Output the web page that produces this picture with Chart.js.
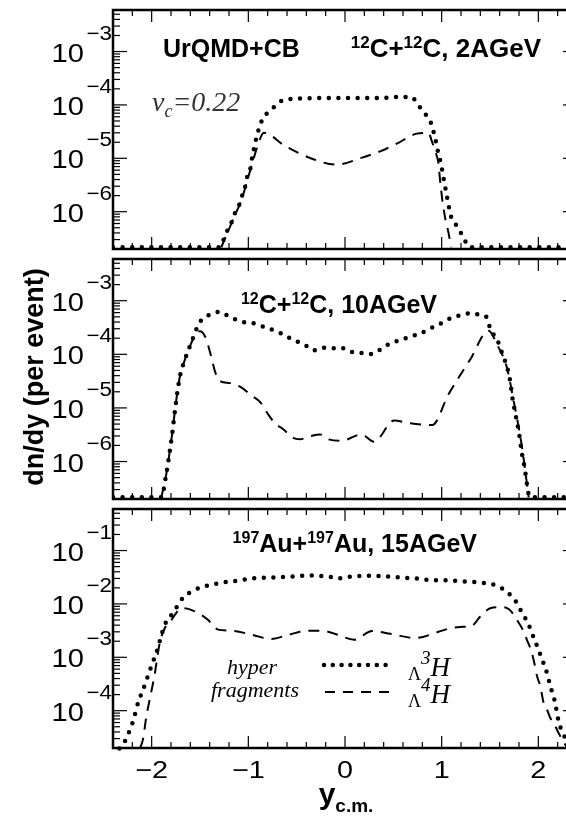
<!DOCTYPE html>
<html lang="en">
<head>
<meta charset="UTF-8">
<title>Hyperfragment rapidity distributions</title>
<script src="https://cdn.jsdelivr.net/npm/chart.js@4.4.1/dist/chart.umd.min.js"></script>
<style>
  html, body { margin: 0; padding: 0; background: #fff; }
  #wrap { position: relative; width: 566px; height: 818px; overflow: hidden; background: #fff; }
  #wrap canvas { position: absolute; left: 0; }
</style>
</head>
<body>
<div id="wrap">
  <canvas id="pC2" style="top:0px"></canvas>
  <canvas id="pC10" style="top:254px"></canvas>
  <canvas id="pAu15" style="top:504px"></canvas>
</div>
<script>
// zero yield is drawn on the lower frame edge
const FLOOR = 2.15e-7;

// ---- C+C, 2 AGeV ----
const ycmC2H3 = [-2.4, -1.30, -1.261, -1.226, -1.174, -1.14, -1.098, -1.064, -1.036, -1.019, -0.984, -0.967, -0.95, -0.933, -0.905, -0.881, -0.847, -0.777, -0.708, -0.64, -0.4, 0, 0.397, 0.5, 0.598, 0.691, 0.75, 0.811, 0.87, 0.905, 0.926, 0.95, 0.967, 0.992, 1.008, 1.026, 1.043, 1.06, 1.078, 1.098, 1.15, 1.199, 1.244, 1.295, 2.4];
const dndyC2H3 = [FLOOR, FLOOR, 2.85e-7, 4.1e-7, 6.3e-7, 9.3e-7, 1.29e-6, 2.0e-6, 2.8e-6, 4.1e-6, 5.8e-6, 8.9e-6, 1.29e-5, 1.8e-5, 2.95e-5, 4.0e-5, 5.8e-5, 7.6e-5, 1.02e-4, 1.22e-4, 1.33e-4, 1.35e-4, 1.35e-4, 1.41e-4, 1.41e-4, 1.39e-4, 1.04e-4, 7.4e-5, 5.4e-5, 3.8e-5, 2.6e-5, 1.73e-5, 1.18e-5, 8.2e-6, 5.5e-6, 3.7e-6, 2.5e-6, 1.7e-6, 1.15e-6, 8.0e-7, 5.6e-7, 4.0e-7, 2.8e-7, FLOOR, FLOOR];
const ycmC2H4 = [-1.28, -1.24, -1.19, -1.14, -1.08, -1.04, -1.0, -0.96, -0.92, -0.88, -0.84, -0.62, -0.32, -0.09, 0.17, 0.363, 0.552, 0.64, 0.743, 0.863, 0.898, 0.933, 0.967, 0.98, 0.995, 1.01, 1.025, 1.04, 1.07, 1.09, 1.1];
const dndyC2H4 = [FLOOR, 3.2e-7, 5.2e-7, 8.5e-7, 1.5e-6, 2.5e-6, 4.5e-6, 8e-6, 1.4e-5, 2.3e-5, 3.0e-5, 1.7e-5, 9.5e-6, 7.6e-6, 1.02e-5, 1.35e-5, 1.95e-5, 2.4e-5, 2.9e-5, 3.0e-5, 2.1e-5, 1.35e-5, 8.1e-6, 4.5e-6, 2.5e-6, 1.5e-6, 1.0e-6, 7e-7, 4.1e-7, 2.6e-7, FLOOR];

// ---- C+C, 10 AGeV ----
const ycmC10H3 = [-2.4, -1.90, -1.855, -1.813, -1.786, -1.751, -1.71, -1.658, -1.624, -1.554, -1.52, -1.468, -1.381, -1.295, -1.209, -1.122, -1.026, -0.933, -0.847, -0.749, -0.656, -0.58, -0.494, -0.397, -0.321, -0.226, -0.132, -0.038, 0.056, 0.15, 0.226, 0.32, 0.395, 0.489, 0.583, 0.677, 0.771, 0.865, 0.959, 1.109, 1.203, 1.297, 1.391, 1.466, 1.504, 1.579, 1.635, 1.673, 1.711, 1.729, 1.767, 1.805, 1.823, 1.861, 1.898, 1.917, 2.4];
const dndyC10H3 = [FLOOR, FLOOR, 5.0e-7, 1.55e-6, 3.5e-6, 1.17e-5, 3.7e-5, 7.8e-5, 1.15e-4, 2.44e-4, 3.5e-4, 4.65e-4, 5.6e-4, 6.2e-4, 5.2e-4, 4.4e-4, 3.9e-4, 3.75e-4, 3.3e-4, 2.85e-4, 2.44e-4, 2.05e-4, 1.73e-4, 1.43e-4, 1.19e-4, 1.32e-4, 1.29e-4, 1.32e-4, 1.12e-4, 1.08e-4, 1.0e-4, 1.08e-4, 1.35e-4, 1.66e-4, 1.86e-4, 2.15e-4, 2.4e-4, 2.95e-4, 3.5e-4, 4.9e-4, 5.4e-4, 5.8e-4, 5.5e-4, 4.9e-4, 2.95e-4, 1.8e-4, 9.3e-5, 6.1e-5, 3.0e-5, 1.67e-5, 7.1e-6, 3.0e-6, 1.7e-6, 7.1e-7, 2.5e-7, FLOOR, FLOOR];
const ycmC10H4 = [-1.90, -1.855, -1.813, -1.786, -1.751, -1.71, -1.658, -1.624, -1.554, -1.503, -1.45, -1.381, -1.347, -1.295, -1.192, -1.07, -0.967, -0.88, -0.795, -0.725, -0.639, -0.536, -0.466, -0.363, -0.259, -0.173, -0.038, 0.169, 0.30, 0.508, 0.658, 0.902, 1.071, 1.297, 1.485, 1.579, 1.673, 1.748, 1.823, 1.88, 1.9];
const dndyC10H4 = [FLOOR, 5.0e-7, 1.55e-6, 3.5e-6, 1.17e-5, 3.7e-5, 7.8e-5, 1.15e-4, 2.2e-4, 2.7e-4, 2.2e-4, 8.7e-5, 4.9e-5, 3.2e-5, 2.9e-5, 2.4e-5, 1.7e-5, 1.3e-5, 7.6e-6, 5.2e-6, 4.0e-6, 2.75e-6, 2.6e-6, 2.95e-6, 3.2e-6, 2.6e-6, 2.43e-6, 3.2e-6, 2.34e-6, 5.8e-6, 5.2e-6, 4.8e-6, 1.8e-5, 8.1e-5, 2.75e-4, 1.45e-4, 5.8e-5, 1.26e-5, 2.3e-6, 4.1e-7, FLOOR];

// ---- Au+Au, 15 AGeV ----
const ycmAu15H3 = [-2.42, -2.297, -2.245, -2.21, -2.183, -2.159, -2.131, -2.096, -2.062, -2.028, -1.993, -1.959, -1.924, -1.889, -1.848, -1.796, -1.738, -1.676, -1.589, -1.503, -1.399, -1.302, -1.209, -1.122, -0.959, -0.733, -0.545, -0.357, -0.263, -0.169, -0.075, 0.019, 0.207, 0.395, 0.583, 0.771, 0.881, 1.088, 1.278, 1.365, 1.451, 1.554, 1.624, 1.692, 1.762, 1.806, 1.855, 1.9, 1.934, 1.969, 2.003, 2.038, 2.073, 2.10, 2.124, 2.152, 2.176, 2.193, 2.21, 2.245, 2.28, 2.42];
const dndyAu15H3 = [1.6e-5, 2.3e-5, 3.6e-5, 5.1e-5, 7.3e-5, 1.08e-4, 1.6e-4, 2.3e-4, 3.4e-4, 5.1e-4, 7.8e-4, 1.11e-3, 1.8e-3, 3.0e-3, 4.7e-3, 6.2e-3, 8.9e-3, 1.3e-2, 1.7e-2, 2.0e-2, 2.25e-2, 2.44e-2, 2.6e-2, 2.7e-2, 3.0e-2, 3.13e-2, 3.27e-2, 3.41e-2, 3.35e-2, 3.27e-2, 3.0e-2, 3.2e-2, 3.36e-2, 3.3e-2, 3.13e-2, 2.95e-2, 2.8e-2, 2.75e-2, 2.6e-2, 2.54e-2, 2.44e-2, 2.26e-2, 1.96e-2, 1.58e-2, 1.15e-2, 8.3e-3, 5.8e-3, 4.1e-3, 2.83e-3, 1.97e-3, 1.38e-3, 9.2e-4, 6.3e-4, 4.3e-4, 2.84e-4, 2.0e-4, 1.35e-4, 9.1e-5, 6.3e-5, 4.1e-5, 3.1e-5, 1.8e-5];
const ycmAu15H4 = [-2.12, -2.09, -2.055, -2.028, -1.993, -1.969, -1.951, -1.917, -1.865, -1.796, -1.692, -1.606, -1.485, -1.416, -1.313, -1.184, -0.959, -0.771, -0.583, -0.395, -0.207, -0.075, 0.094, 0.282, 0.47, 0.733, 0.967, 1.088, 1.192, 1.313, 1.399, 1.503, 1.606, 1.703, 1.779, 1.831, 1.883, 1.917, 1.951, 1.987, 2.021, 2.055, 2.083, 2.124, 2.176, 2.21, 2.26, 2.3];
const dndyAu15H4 = [2e-5, 2.9e-5, 7.8e-5, 1.39e-4, 2.84e-4, 4.7e-4, 7.8e-4, 1.84e-3, 3.5e-3, 5.0e-3, 8.3e-3, 7.9e-3, 6.2e-3, 5.0e-3, 3.3e-3, 3.16e-3, 2.64e-3, 2.2e-3, 2.64e-3, 3.16e-3, 3.1e-3, 2.64e-3, 2.14e-3, 3.1e-3, 2.75e-3, 2.3e-3, 3.0e-3, 3.5e-3, 3.7e-3, 3.9e-3, 5.8e-3, 8.3e-3, 8.7e-3, 7.8e-3, 5.0e-3, 3.5e-3, 2.1e-3, 1.48e-3, 9.0e-4, 4.4e-4, 2.84e-4, 1.39e-4, 1.12e-4, 7.3e-5, 5.1e-5, 3.8e-5, 2.6e-5, 2e-5];

// axis ranges
const yRangeC = [2e-7, 6e-3];
const yRangeAu = [2e-5, 0.6];
const xRange = [-2.4, 2.4];
const xTickLabels = ['\u22122', '\u22121', '0', '1', '2'];
const xTickValues = [-2, -1, 0, 1, 2];

const SANS = '"Liberation Sans", Arial, Helvetica, sans-serif';
const SERIF = '"Liberation Serif", "Times New Roman", serif';

// dotted (3H) and dashed (4H) stroke styles, shared by curves and legend
const DOT = { width: 4.5, dash: [0, 9.6] };
const DASH = { width: 2, dash: [11, 8] };

// runs: [text, font, dy]; stretch widens glyphs horizontally
function drawRuns(ctx, runs, x, y, align, stretch) {
  const k = stretch || 1;
  let w = 0;
  runs.forEach(r => { ctx.font = r[1]; w += ctx.measureText(r[0]).width; });
  w *= k;
  const x0 = align === 'center' ? x - w / 2 : align === 'right' ? x - w : x;
  ctx.save();
  ctx.translate(x0, y);
  ctx.scale(k, 1);
  ctx.textAlign = 'left';
  ctx.textBaseline = 'alphabetic';
  let cx = 0;
  runs.forEach(r => {
    ctx.font = r[1];
    ctx.fillText(r[0], cx, r[2] || 0);
    cx += ctx.measureText(r[0]).width;
  });
  ctx.restore();
}

function seg(ctx, x1, y1, x2, y2) {
  ctx.beginPath(); ctx.moveTo(x1, y1); ctx.lineTo(x2, y2); ctx.stroke();
}

// frame, inward ticks, decade labels and panel captions
const framePlugin = {
  id: 'frame',
  afterDatasetsDraw(chart, args, opts) {
    const { ctx, chartArea: a } = chart;
    const sx = chart.scales.x, sy = chart.scales.y;
    ctx.save();
    ctx.strokeStyle = '#000';
    ctx.fillStyle = '#000';
    ctx.lineWidth = 1.2;
    for (let k = -12; k <= 12; k++) {
      const px = sx.getPixelForValue(k * 0.2);
      const len = k % 5 === 0 ? 12 : 6;
      seg(ctx, px, a.bottom, px, a.bottom - len);
      seg(ctx, px, a.top, px, a.top + len);
    }
    for (let e = -8; e <= 0; e++) {
      for (let m = 1; m <= 9; m++) {
        const v = m * Math.pow(10, e);
        if (v < sy.min || v > sy.max) continue;
        const py = sy.getPixelForValue(v);
        const len = m === 1 ? 14 : 7;
        seg(ctx, a.left, py, a.left + len, py);
        seg(ctx, a.right, py, a.right - len, py);
        if (m === 1) {
          drawRuns(ctx, [['10', '26px ' + SANS]], a.left - 29, py + 10, 'right', 1.12);
          drawRuns(ctx, [['\u2212' + (-e), '20px ' + SANS]], a.left - 1, py - 12, 'right', 1.12);
        }
      }
    }
    ctx.lineWidth = 2.5;
    ctx.strokeRect(a.left, a.top, a.right - a.left, a.bottom - a.top);

    if (opts.xLabels) {
      xTickValues.forEach((v, i) =>
        drawRuns(ctx, [[xTickLabels[i], '24px ' + SANS]], sx.getPixelForValue(v), a.bottom + 30, 'center', 1.2));
    }
    if (opts.draw) opts.draw(ctx, a, sx, sy);
    ctx.restore();
  }
};

function makeLineSet(xs, ys, dotted) {
  const st = dotted ? DOT : DASH;
  return {
    data: xs.map((x, i) => ({ x: x, y: ys[i] })),
    borderColor: '#000',
    borderWidth: st.width,
    borderDash: st.dash,
    borderCapStyle: dotted ? 'round' : 'butt',
    cubicInterpolationMode: 'monotone',
    pointRadius: 0,
    fill: false,
    clip: { left: 0, top: 0, right: 0, bottom: 3 }
  };
}

function makePanel(id, height, pad, yRange, sets, deco) {
  const cv = document.getElementById(id);
  cv.width = 590;
  cv.height = height;
  cv.style.width = '590px';
  cv.style.height = height + 'px';
  return new Chart(cv.getContext('2d'), {
    type: 'line',
    data: { datasets: sets },
    options: {
      responsive: false,
      animation: false,
      devicePixelRatio: 1,
      layout: { padding: { left: 113, right: 13, top: pad[0], bottom: pad[1] } },
      scales: {
        x: { type: 'linear', min: xRange[0], max: xRange[1], display: false },
        y: { type: 'logarithmic', min: yRange[0], max: yRange[1], display: false }
      },
      plugins: {
        legend: { display: false },
        tooltip: { enabled: false },
        frame: deco
      }
    },
    plugins: [framePlugin]
  });
}

const BOLD = 'bold 25px ' + SANS;
const BOLDSUP = 'bold 16px ' + SANS;

makePanel('pC2', 256, [10, 7], yRangeC, [
  makeLineSet(ycmC2H3, dndyC2H3, true),
  makeLineSet(ycmC2H4, dndyC2H4, false)
], {
  draw(ctx, a) {
    drawRuns(ctx, [['UrQMD+CB', BOLD]], 163, 57, 'left');
    drawRuns(ctx, [['12', 'bold 17px ' + SANS, -9], ['C+', 'bold 26px ' + SANS], ['12', 'bold 17px ' + SANS, -9], ['C, 2AGeV', 'bold 26px ' + SANS]], 541, 57, 'right');
    ctx.fillStyle = '#333';
    drawRuns(ctx, [['v', 'italic 28px ' + SERIF], ['c', 'italic 18px ' + SERIF, 6], ['=0.22', 'italic 28px ' + SERIF]], 152, 111, 'left');
  }
});

makePanel('pC10', 250, [5, 5], yRangeC, [
  makeLineSet(ycmC10H3, dndyC10H3, true),
  makeLineSet(ycmC10H4, dndyC10H4, false)
], {
  draw(ctx, a) {
    drawRuns(ctx, [['12', BOLDSUP, -9], ['C+', BOLD], ['12', BOLDSUP, -9], ['C, 10AGeV', BOLD]], 339, 59, 'center');
    // shared y-axis title, centred on the middle panel
    ctx.save();
    ctx.translate(36, 123);
    ctx.rotate(-Math.PI / 2);
    ctx.font = 'bold 27px ' + SANS;
    ctx.textAlign = 'center';
    ctx.textBaseline = 'middle';
    ctx.fillText('dn/dy (per event)', 0, 0);
    ctx.restore();
  }
});

makePanel('pAu15', 314, [5, 70], yRangeAu, [
  makeLineSet(ycmAu15H3, dndyAu15H3, true),
  makeLineSet(ycmAu15H4, dndyAu15H4, false)
], {
  xLabels: true,
  draw(ctx, a) {
    drawRuns(ctx, [['197', BOLDSUP, -9], ['Au+', BOLD], ['197', BOLDSUP, -9], ['Au, 15AGeV', BOLD]], 477, 48, 'right');
    // legend
    const it = 'italic 22px ' + SERIF;
    drawRuns(ctx, [['hyper', it]], 252, 170, 'center');
    drawRuns(ctx, [['fragments', it]], 255, 193, 'center');
    ctx.strokeStyle = '#000';
    ctx.lineCap = 'round';
    ctx.lineWidth = DOT.width;
    ctx.setLineDash([0, 8.8]);
    seg(ctx, 324, 161, 394, 161);
    ctx.lineCap = 'butt';
    ctx.lineWidth = DASH.width;
    ctx.setLineDash([10, 8]);
    seg(ctx, 325, 188, 397, 188);
    ctx.setLineDash([]);
    const lam = '18px ' + SERIF, sup = 'italic 19px ' + SERIF, hh = 'italic 27px ' + SERIF;
    drawRuns(ctx, [['\u039B', lam, 4], ['3', sup, -12], ['H', hh]], 408, 172, 'left');
    drawRuns(ctx, [['\u039B', lam, 4], ['4', sup, -12], ['H', hh]], 408, 199, 'left');
    // x-axis title
    drawRuns(ctx, [['y', 'bold 30px ' + SANS], ['c.m.', 'bold 19px ' + SANS, 8]], 346, 300, 'center');
  }
});
</script>
</body>
</html>
